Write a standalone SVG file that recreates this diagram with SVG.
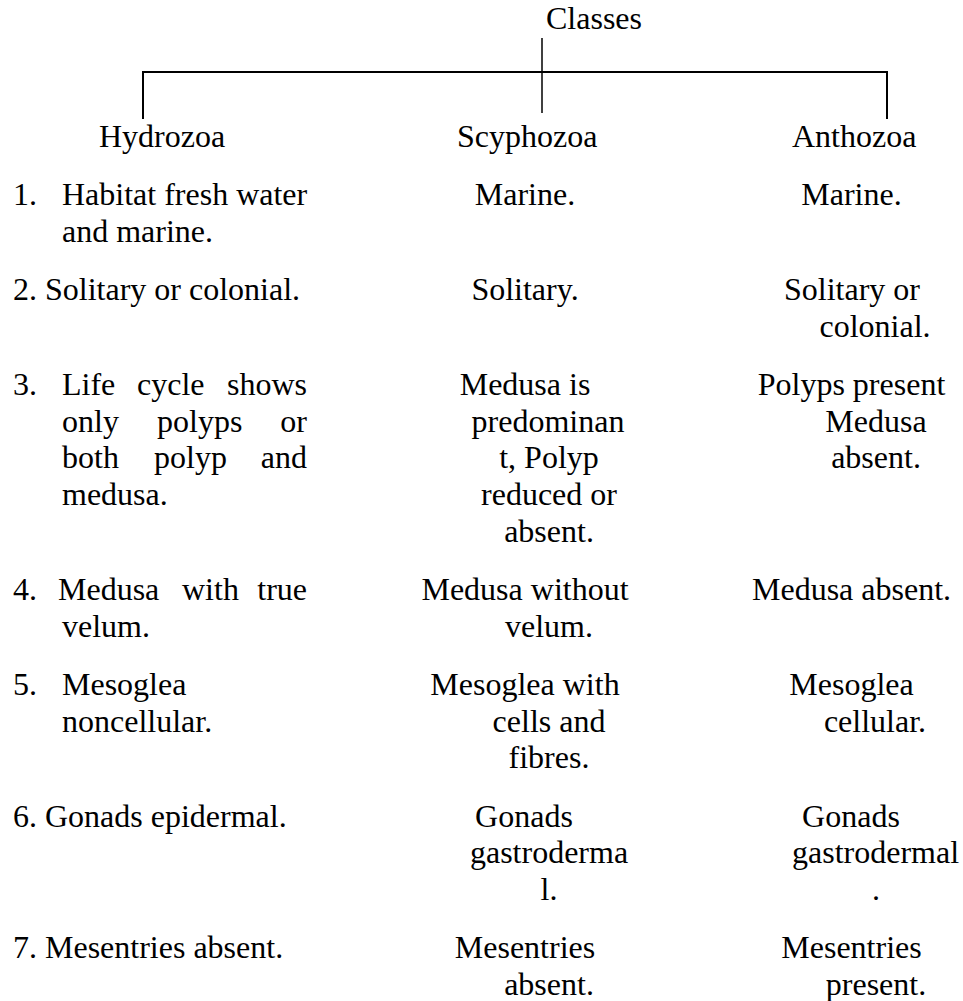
<svg xmlns="http://www.w3.org/2000/svg" width="963" height="1001" viewBox="0 0 963 1001">
<style>
text{font-family:"Liberation Serif","Times New Roman",serif;font-size:32px;fill:#000}
.m{text-anchor:middle}
.e{text-anchor:end}
.ln{stroke:#000;fill:none}
</style>
<rect width="963" height="1001" fill="#fff"/>
<g id="connectors">
<line class="ln" x1="542" y1="38" x2="542" y2="113" stroke-width="1.5"/>
<line class="ln" x1="142" y1="72" x2="888" y2="72" stroke-width="2"/>
<line class="ln" x1="143" y1="71" x2="143" y2="119" stroke-width="2"/>
<line class="ln" x1="887" y1="71" x2="887" y2="119" stroke-width="2"/>
</g>
<g id="classes"><text x="546" y="29">Classes</text></g>
<g id="hydrozoa">
<text x="99" y="147">Hydrozoa</text>
<text x="13" y="205">1.</text><text x="62" y="205">Habitat fresh water</text>
<text x="62" y="242">and marine.</text>
<text x="13" y="300">2. Solitary or colonial.</text>
<text x="13" y="395">3.</text><text x="62" y="395">Life</text><text x="137" y="395">cycle</text><text class="e" x="307" y="395">shows</text>
<text x="62" y="432">only</text><text x="157" y="432">polyps</text><text class="e" x="307" y="432">or</text>
<text x="62" y="468">both</text><text x="154" y="468">polyp</text><text class="e" x="307" y="468">and</text>
<text x="62" y="505">medusa.</text>
<text x="13" y="600">4.</text><text x="58" y="600">Medusa</text><text x="182" y="600">with</text><text class="e" x="307" y="600">true</text>
<text x="62" y="637">velum.</text>
<text x="13" y="695">5.</text><text x="62" y="695">Mesoglea</text>
<text x="62" y="732">noncellular.</text>
<text x="13" y="827">6. Gonads epidermal.</text>
<text x="13" y="958">7. Mesentries absent.</text>
</g>
<g id="scyphozoa">
<text x="457" y="147">Scyphozoa</text>
<text class="m" x="525" y="205">Marine.</text>
<text class="m" x="525" y="300">Solitary.</text>
<text class="m" x="525" y="395">Medusa is</text>
<text class="m" x="548" y="432">predominan</text>
<text class="m" x="549" y="468">t, Polyp</text>
<text class="m" x="549" y="505">reduced or</text>
<text class="m" x="549" y="542">absent.</text>
<text class="m" x="525" y="600">Medusa without</text>
<text class="m" x="549" y="637">velum.</text>
<text class="m" x="525" y="695">Mesoglea with</text>
<text class="m" x="549" y="732">cells and</text>
<text class="m" x="549" y="768">fibres.</text>
<text class="m" x="524" y="827">Gonads</text>
<text class="m" x="549" y="863">gastroderma</text>
<text class="m" x="549" y="900">l.</text>
<text class="m" x="525" y="958">Mesentries</text>
<text class="m" x="549" y="995">absent.</text>
</g>
<g id="anthozoa">
<text x="792" y="147">Anthozoa</text>
<text class="m" x="851.5" y="205">Marine.</text>
<text class="m" x="852" y="300">Solitary or</text>
<text class="m" x="875" y="337">colonial.</text>
<text class="m" x="851.5" y="395">Polyps present</text>
<text class="m" x="876" y="432">Medusa</text>
<text class="m" x="876" y="468">absent.</text>
<text class="m" x="851.5" y="600">Medusa absent.</text>
<text class="m" x="851.5" y="695">Mesoglea</text>
<text class="m" x="875" y="732">cellular.</text>
<text class="m" x="851" y="827">Gonads</text>
<text class="m" x="875.5" y="863">gastrodermal</text>
<text class="m" x="876" y="900">.</text>
<text class="m" x="851.5" y="958">Mesentries</text>
<text class="m" x="876" y="995">present.</text>
</g>
</svg>
